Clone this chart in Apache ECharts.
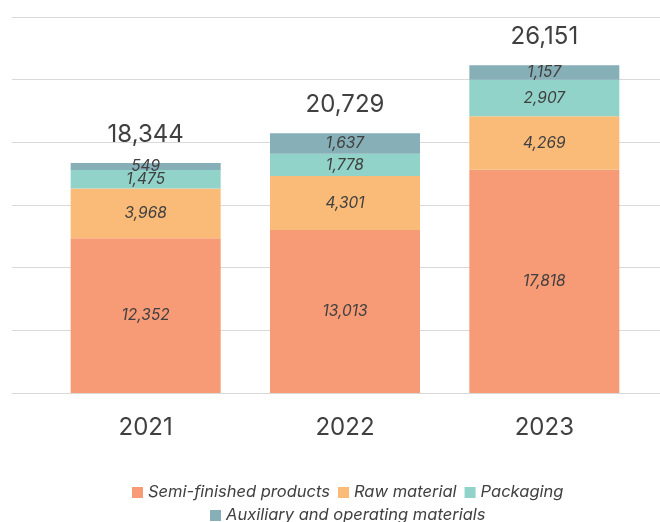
<!DOCTYPE html>
<html lang="en">
  <head>
    <meta charset="utf-8" />
    <title>Inventories</title>
    <style>
      html, body { margin: 0; padding: 0; background: #fff; }
      #main { width: 660px; height: 522px; }
    </style>
  </head>
  <body>
    <div id="main"></div>
    <script src="https://cdn.jsdelivr.net/npm/echarts@6/dist/echarts.min.js"></script>
    <script>
    // data
    const years = ['2021', '2022', '2023'];
    const semiFinished = [12352, 13013, 17818];
    const rawMaterial = [3968, 4301, 4269];
    const packaging = [1475, 1778, 2907];
    const auxiliary = [549, 1637, 1157];
    const totals = years.map((y, i) => semiFinished[i] + rawMaterial[i] + packaging[i] + auxiliary[i]);

    const names = ['Semi-finished products', 'Raw material', 'Packaging', 'Auxiliary and operating materials'];
    const colors = ['#F79A76', '#FBBB78', '#91D3C9', '#86AFB7'];
    const txt = '#404040';
    const font = 'Inter';
    const fmt = v => Number(v).toLocaleString('en-US');

    let chart = echarts.init(document.getElementById('main'));

    function part(name, data, color) {
        return {
            name: name,
            type: 'bar',
            stack: 'total',
            xAxisIndex: 1,
            yAxisIndex: 1,
            barWidth: 150,
            itemStyle: { color: color },
            label: {
                show: true,
                position: 'inside',
                color: txt,
                fontFamily: font,
                fontStyle: 'italic',
                fontSize: 15.5,
                formatter: p => fmt(p.value)
            },
            data: data
        };
    }

    const legendText = { color: txt, fontStyle: 'italic', fontSize: 16.5, fontFamily: font };

    let option = {
        animation: false,
        color: colors,
        textStyle: { fontFamily: font },
        grid: [
            { left: 12, right: 0, top: 17, bottom: 129 },   // gridlines only
            { left: 46, right: 16, top: 17, bottom: 129 }   // bars
        ],
        legend: [
            {
                data: names.slice(0, 3),
                top: 479, left: 127,
                itemWidth: 11, itemHeight: 11, itemGap: 8,
                icon: 'rect',
                textStyle: legendText
            },
            {
                data: names.slice(3),
                top: 502, left: 205,
                itemWidth: 11, itemHeight: 11,
                icon: 'rect',
                textStyle: legendText
            }
        ],
        xAxis: [
            { type: 'value', gridIndex: 0, show: false, min: 0, max: 1 },
            {
                type: 'category', gridIndex: 1, data: years,
                axisLine: { show: false }, axisTick: { show: false },
                axisLabel: { color: txt, fontSize: 24, margin: 23, fontFamily: font }
            }
        ],
        yAxis: [
            {
                type: 'value', gridIndex: 0, min: 0, max: 30000, interval: 5000,
                axisLabel: { show: false }, axisLine: { show: false }, axisTick: { show: false },
                splitLine: { lineStyle: { color: '#d9d9d9', width: 1 } }
            },
            {
                type: 'value', gridIndex: 1, min: 0, max: 30000, interval: 5000,
                axisLabel: { show: false }, axisLine: { show: false }, axisTick: { show: false },
                splitLine: { show: false }
            }
        ],
        series: [
            part(names[0], semiFinished, colors[0]),
            part(names[1], rawMaterial, colors[1]),
            part(names[2], packaging, colors[2]),
            part(names[3], auxiliary, colors[3]),
            {
                name: 'total',
                type: 'bar',
                stack: 'total',
                xAxisIndex: 1,
                yAxisIndex: 1,
                barWidth: 150,
                data: years.map(() => 0),
                label: {
                    show: true,
                    position: 'top',
                    distance: 16,
                    color: txt,
                    fontSize: 24,
                    fontFamily: font,
                    formatter: p => fmt(totals[p.dataIndex])
                }
            }
        ]
    };
    chart.setOption(option);
    </script>
  </body>
</html>
